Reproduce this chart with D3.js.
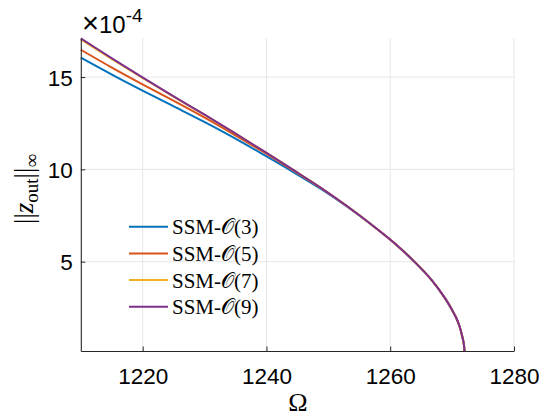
<!DOCTYPE html>
<html><head><meta charset="utf-8">
<script src="https://cdn.jsdelivr.net/npm/d3@7"></script>
<style>body{margin:0;background:#fff}svg{display:block}</style>
</head><body>
<script>
// Data (amplitude values in units of 1e-4)
const omega = [1210, 1215.1, 1219.9, 1224.8, 1229.8, 1234.7, 1239.5, 1244.2, 1248.8, 1253.05, 1257.0, 1260.7, 1263.9, 1266.7, 1268.9, 1269.8, 1270.6, 1271.2, 1271.6, 1271.87, 1272.0];
const ssm3 = [16.05, 15.12, 14.28, 13.45, 12.60, 11.72, 10.80, 9.88, 8.94, 7.98, 7.00, 6.00, 5.00, 4.00, 3.00, 2.50, 2.00, 1.50, 1.00, 0.60, 0.16];
const ssm5 = [16.48, 15.50, 14.62, 13.75, 12.84, 11.90, 10.94, 9.97, 8.99, 8.00, 7.00, 6.00, 5.00, 4.00, 3.00, 2.50, 2.00, 1.50, 1.00, 0.60, 0.16];
const ssm7 = [17.04, 15.955, 14.97, 13.98, 12.99, 12.00, 11.00, 10.00, 9.00, 8.00, 7.00, 6.00, 5.00, 4.00, 3.00, 2.50, 2.00, 1.50, 1.00, 0.60, 0.16];
const ssm9 = [17.10, 16.00, 15.00, 14.00, 13.00, 12.00, 11.00, 10.00, 9.00, 8.00, 7.00, 6.00, 5.00, 4.00, 3.00, 2.50, 2.00, 1.50, 1.00, 0.60, 0.16];
const seriesNames = ["3", "5", "7", "9"];
const seriesColors = ["#0072BD", "#D95319", "#EDB120", "#7E2F8E"];
const xTicks = [1220, 1240, 1260, 1280];
const yTicks = [5, 10, 15];

const W = 539, H = 417;
const m = {left: 80.8, right: 514, top: 38.3, bottom: 351};
const svg = d3.select("body").append("svg").attr("width", W).attr("height", H);

const allY = ssm3.concat(ssm5, ssm7, ssm9);
const x = d3.scaleLinear().domain([1210, 1280]).range([m.left, m.right]);
const y = d3.scaleLinear().domain(d3.extent(allY)).range([m.bottom, m.top]);

const tickFont = "'Liberation Sans', Arial, sans-serif";
const serif = "'Liberation Serif', 'DejaVu Serif', serif";

// grid
const g = svg.append("g");
g.selectAll(".gx").data(xTicks).enter().append("line")
  .attr("x1", d => x(d)).attr("x2", d => x(d)).attr("y1", m.top).attr("y2", m.bottom)
  .attr("stroke", "#e6e6e6").attr("stroke-width", 1);
g.selectAll(".gy").data(yTicks).enter().append("line")
  .attr("y1", d => y(d)).attr("y2", d => y(d)).attr("x1", m.left).attr("x2", m.right)
  .attr("stroke", "#e6e6e6").attr("stroke-width", 1);

// lines
const series = [ssm3, ssm5, ssm7, ssm9];
const line = d3.line().x(d => x(d[0])).y(d => y(d[1])).curve(d3.curveCatmullRom.alpha(0.5));
series.forEach((s, i) => {
  svg.append("path").datum(omega.map((o, k) => [o, s[k]]))
    .attr("fill", "none").attr("stroke", seriesColors[i]).attr("stroke-width", 2)
    .attr("d", line);
});

// axes
const xAxis = svg.append("g").attr("transform", `translate(0,${m.bottom})`)
  .call(d3.axisBottom(x).tickValues(xTicks).tickFormat(d3.format("d")).tickSize(-4.5).tickSizeOuter(0));
const yAxis = svg.append("g").attr("transform", `translate(${m.left},0)`)
  .call(d3.axisLeft(y).tickValues(yTicks).tickFormat(d3.format("d")).tickSize(-4.5).tickSizeOuter(0));
[xAxis, yAxis].forEach(a => {
  a.select(".domain").attr("stroke", "#262626").attr("stroke-width", 1.1);
  a.selectAll(".tick line").attr("stroke", "#262626");
  a.selectAll("text").attr("fill", "#000").attr("font-family", tickFont).attr("font-size", 22.5);
});
xAxis.selectAll("text").attr("dy", null).attr("y", 32.5);
yAxis.selectAll("text").attr("dy", "0.36em").attr("x", -8);

// exponent label
const ex = svg.append("text").attr("x", 82).attr("y", 33).attr("font-family", tickFont).attr("font-size", 24).attr("fill", "#000");
ex.append("tspan").attr("font-size", 29).text("×");
ex.append("tspan").text("10");
ex.append("tspan").attr("dy", -11).attr("font-size", 19).text("-4");

// x label
svg.append("text").attr("x", 298).attr("y", 411).attr("text-anchor", "middle")
  .attr("font-family", serif).attr("font-size", 26).attr("fill", "#000").text("Ω");

// y label
const yl = svg.append("text").attr("transform", "translate(33,189) rotate(-90)")
  .attr("text-anchor", "middle").attr("font-family", serif).attr("font-size", 27).attr("fill", "#000");
yl.append("tspan").text("||");
yl.append("tspan").attr("font-style", "italic").text("z");
yl.append("tspan").attr("font-size", 19).attr("dy", 5).text("out");
yl.append("tspan").attr("dy", -5).text("||");
yl.append("tspan").attr("font-size", 19).attr("dy", 5).text("∞");

// legend
const lg = svg.append("g");
seriesNames.forEach((n, i) => {
  const yy = 226.7 + i * 26.7;
  lg.append("line").attr("x1", 129).attr("x2", 168).attr("y1", yy).attr("y2", yy)
    .attr("stroke", seriesColors[i]).attr("stroke-width", 2);
  const t = lg.append("text").attr("x", 172).attr("y", yy + 7.5).attr("font-family", serif)
    .attr("font-size", 21).attr("fill", "#000");
  t.append("tspan").text("SSM-");
  t.append("tspan").text("𝒪");
  t.append("tspan").text("(" + n + ")");
});
</script>
</body></html>
